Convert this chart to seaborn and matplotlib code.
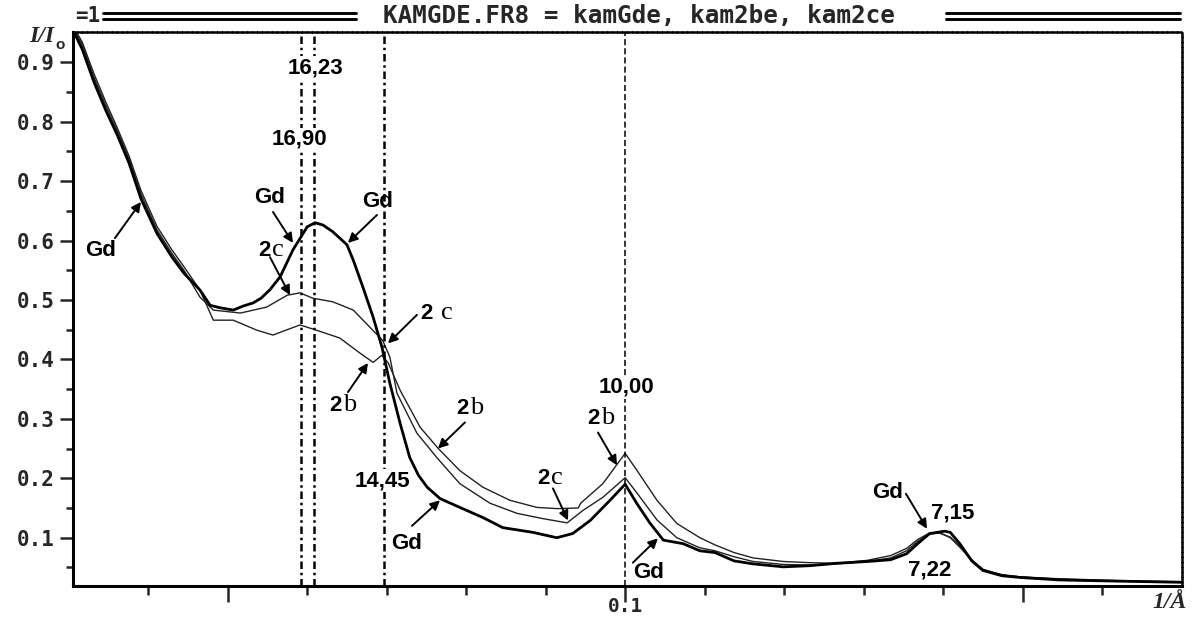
import numpy as np
import pandas as pd
import matplotlib
matplotlib.use("Agg")
import matplotlib.pyplot as plt
from matplotlib.lines import Line2D
import seaborn as sns

# scattering curves, q in 1/A, I/I0
gd_q = [0.0305, 0.0317, 0.0332, 0.0347, 0.0361, 0.0376, 0.0391, 0.0411, 0.0430, 0.0445,
        0.0465, 0.0478, 0.0490, 0.0507, 0.0520, 0.0532, 0.0542, 0.0553, 0.0566, 0.0582,
        0.0600, 0.0610, 0.0620, 0.0632, 0.0650, 0.0658, 0.0670, 0.0683, 0.0694, 0.0704,
        0.0717, 0.0729, 0.0740, 0.0751, 0.0767, 0.0792, 0.0821, 0.0846, 0.0884, 0.0914,
        0.0934, 0.0956, 0.0981, 0.1000, 0.1015, 0.1031, 0.1048, 0.1073, 0.1094, 0.1113,
        0.1137, 0.1161, 0.1199, 0.1233, 0.1266, 0.1305, 0.1334, 0.1354, 0.1368, 0.1383,
        0.1402, 0.1409, 0.1421, 0.1436, 0.1450, 0.1474, 0.1498, 0.1546, 0.1618, 0.1700]
gd_i = [0.955, 0.922, 0.866, 0.818, 0.778, 0.730, 0.670, 0.612, 0.572, 0.545,
        0.517, 0.491, 0.487, 0.483, 0.490, 0.495, 0.503, 0.517, 0.539, 0.584,
        0.623, 0.630, 0.626, 0.615, 0.593, 0.567, 0.522, 0.471, 0.421, 0.360,
        0.292, 0.235, 0.205, 0.185, 0.166, 0.151, 0.134, 0.117, 0.109, 0.100,
        0.107, 0.129, 0.163, 0.190, 0.157, 0.125, 0.096, 0.090, 0.078, 0.075,
        0.061, 0.056, 0.051, 0.053, 0.057, 0.060, 0.063, 0.073, 0.090, 0.107,
        0.111, 0.109, 0.090, 0.061, 0.045, 0.036, 0.033, 0.029, 0.027, 0.025]

b2_q = [0.0305, 0.0317, 0.0332, 0.0347, 0.0361, 0.0376, 0.0391, 0.0411, 0.0430, 0.0445,
        0.0465, 0.0482, 0.0507, 0.0537, 0.0557, 0.0575, 0.0591, 0.0612, 0.0641, 0.0666,
        0.0683, 0.0694, 0.0702, 0.0717, 0.0742, 0.0765, 0.0792, 0.0821, 0.0855, 0.0889,
        0.0914, 0.0941, 0.0944, 0.0972, 0.1000, 0.1015, 0.1040, 0.1065, 0.1094, 0.1113,
        0.1137, 0.1161, 0.1199, 0.1233, 0.1266, 0.1305, 0.1334, 0.1354, 0.1368, 0.1383,
        0.1395, 0.1409, 0.1421, 0.1436, 0.1450, 0.1474, 0.1498, 0.1546, 0.1618, 0.1700]
b2_i = [0.962, 0.934, 0.880, 0.832, 0.790, 0.742, 0.684, 0.624, 0.584, 0.556,
        0.517, 0.466, 0.466, 0.449, 0.441, 0.450, 0.458, 0.449, 0.436, 0.411,
        0.395, 0.407, 0.394, 0.348, 0.286, 0.250, 0.213, 0.185, 0.163, 0.151,
        0.149, 0.150, 0.158, 0.191, 0.242, 0.213, 0.163, 0.124, 0.100, 0.088,
        0.075, 0.066, 0.060, 0.058, 0.057, 0.062, 0.070, 0.082, 0.097, 0.108,
        0.109, 0.100, 0.084, 0.062, 0.046, 0.038, 0.034, 0.030, 0.027, 0.025]

c2_q = [0.0305, 0.0317, 0.0332, 0.0347, 0.0361, 0.0376, 0.0391, 0.0411, 0.0430, 0.0445,
        0.0465, 0.0482, 0.0516, 0.0549, 0.0575, 0.0591, 0.0607, 0.0632, 0.0658, 0.0679,
        0.0695, 0.0704, 0.0713, 0.0738, 0.0763, 0.0792, 0.0830, 0.0864, 0.0897, 0.0927,
        0.0947, 0.0972, 0.1000, 0.1015, 0.1040, 0.1065, 0.1094, 0.1113, 0.1137, 0.1161,
        0.1199, 0.1233, 0.1266, 0.1305, 0.1334, 0.1354, 0.1368, 0.1383, 0.1395, 0.1409,
        0.1421, 0.1436, 0.1450, 0.1474, 0.1498, 0.1546, 0.1618, 0.1700]
c2_i = [0.958, 0.930, 0.874, 0.826, 0.785, 0.737, 0.678, 0.618, 0.578, 0.550,
        0.505, 0.483, 0.478, 0.488, 0.508, 0.512, 0.503, 0.497, 0.483, 0.454,
        0.432, 0.404, 0.343, 0.276, 0.235, 0.191, 0.158, 0.141, 0.132, 0.125,
        0.146, 0.168, 0.201, 0.175, 0.130, 0.100, 0.083, 0.078, 0.068, 0.060,
        0.055, 0.054, 0.056, 0.060, 0.066, 0.078, 0.094, 0.106, 0.108, 0.101,
        0.086, 0.063, 0.047, 0.037, 0.034, 0.031, 0.028, 0.026]

# d-spacing markers (1/A)
vline_q = [0.0592, 0.0609, 0.0697, 0.1000]

ytick_vals = [0.1, 0.2, 0.3, 0.4, 0.5, 0.6, 0.7, 0.8, 0.9]
ytick_labels = ["0.1", "0.2", "0.3", "0.4", "0.5", "0.6", "0.7", "0.8", "0.9"]
ytick_minor = [0.05, 0.15, 0.25, 0.35, 0.45, 0.55, 0.65, 0.75, 0.85]
xtick_vals = [0.05, 0.10, 0.15]
xtick_labels = ["", "0.1", ""]
xtick_minor = [0.04, 0.06, 0.07, 0.08, 0.09, 0.11, 0.12, 0.13, 0.14, 0.16]

sns.set_style("white")
plt.rcParams['font.family'] = ['DejaVu Sans']

MONO = ['DejaVu Sans Mono']
NARROW = ['Liberation Sans Narrow', 'Liberation Sans']
SANS = ['Liberation Sans', 'DejaVu Sans']
SERIF = ['Liberation Serif', 'DejaVu Serif']

df = pd.concat([
    pd.DataFrame({"q": gd_q, "I": gd_i, "sample": "Gd"}),
    pd.DataFrame({"q": b2_q, "I": b2_i, "sample": "2b"}),
    pd.DataFrame({"q": c2_q, "I": c2_i, "sample": "2c"}),
], ignore_index=True)

fig = plt.figure(figsize=(11.95, 6.19), dpi=100)
ax = fig.add_axes([0.0608, 0.0541, 0.9280, 0.8934])

styles = {"2b": ("#222222", 1.0), "2c": ("#222222", 1.0), "Gd": ("black", 2.0)}
for name, (col, lw) in styles.items():
    sns.lineplot(data=df[df["sample"] == name], x="q", y="I", ax=ax,
                 color=col, linewidth=lw, estimator=None, sort=False)

for q in vline_q[:3]:
    ax.axvline(q, color="black", lw=1.8, ls=(0, (3, 1.5, 1, 1.5)))
ax.axvline(vline_q[3], color="black", lw=1.1, ls=(0, (4, 2)))

ax.set_xlim(0.0305, 0.170)
ax.set_ylim(0.0196, 0.950)
ax.set_xlabel("")
ax.set_ylabel("")
ax.set_yticks(ytick_vals, ytick_labels)
ax.set_yticks(ytick_minor, minor=True)
ax.set_xticks(xtick_vals, ["", "", ""])
ax.set_xticks(xtick_minor, minor=True)
ax.tick_params(axis='y', which='major', left=True, direction='out', length=9.5, width=1.8, pad=3.5)
ax.tick_params(axis='y', which='minor', left=True, direction='out', length=5, width=1.8)
ax.tick_params(axis='x', which='major', bottom=True, direction='out', length=11.5, width=1.8)
ax.tick_params(axis='x', which='minor', bottom=True, direction='out', length=6.5, width=1.8)
for lab in ax.get_yticklabels():
    lab.set_fontfamily(MONO)
    lab.set_fontweight('bold')
    lab.set_fontsize(15)

# x tick label drawn just under its tick, the bottom edge is tight
for q, lab in zip(xtick_vals, xtick_labels):
    if lab:
        ax.annotate(lab, (q, 0), xycoords=('data', 'figure fraction'),
                    xytext=(0, 9), textcoords='offset points', ha='center', va='center',
                    fontfamily=MONO, fontweight='bold', fontsize=14)

for s in ['left', 'bottom']:
    ax.spines[s].set_linewidth(2.2)
    ax.spines[s].set_color('black')
for s in ['top', 'right']:
    ax.spines[s].set_linewidth(1.8)
    ax.spines[s].set_color('black')
    ax.spines[s].set_linestyle((0, (1.2, 0.8)))

WHITE_BOX = dict(boxstyle='square,pad=0.05', fc='white', ec='none')


def note(x, y, s, size=16, box=False):
    ax.text(x, y, s, ha='center', va='center', fontfamily=NARROW,
            fontweight='bold', fontsize=size, color='black',
            bbox=WHITE_BOX if box else None, zorder=5)


def arrow(tail, tip):
    ax.annotate("", xy=tip, xytext=tail,
                arrowprops=dict(arrowstyle='-|>', color='black', lw=1.4,
                                mutation_scale=14, shrinkA=0, shrinkB=0))


def two_label(x, y, letter, gap=0.5):
    ax.annotate("2", (x, y), xytext=(-gap, 0), textcoords='offset points', color='black',
                ha='right', va='baseline', fontfamily=SANS, fontweight='bold', fontsize=16)
    ax.annotate(letter, (x, y), xytext=(gap, 0), textcoords='offset points', color='black',
                ha='left', va='baseline', fontfamily=SERIF, fontsize=19)


# d-spacing numbers (they break the marker lines)
note(0.06098, 0.891, "16,23", 16, box=True)
note(0.05909, 0.770, "16,90", 16, box=True)
note(0.06953, 0.196, "14,45", 16, box=True)
note(0.10010, 0.353, "10,00", 16, box=True)
note(0.14124, 0.142, "7,15", 16)
note(0.13834, 0.045, "7,22", 16)

# Gd labels with arrows
note(0.03406, 0.584, "Gd")
arrow((0.03582, 0.604), (0.03909, 0.665))
note(0.05532, 0.672, "Gd")
arrow((0.05570, 0.648), (0.05821, 0.596))
note(0.06891, 0.665, "Gd")
arrow((0.06878, 0.643), (0.06513, 0.596))
note(0.07255, 0.090, "Gd")
arrow((0.07318, 0.120), (0.07671, 0.163))
note(0.10299, 0.041, "Gd")
arrow((0.10097, 0.058), (0.10412, 0.099))
note(0.13306, 0.176, "Gd")
arrow((0.13532, 0.174), (0.13797, 0.115))

# sample labels 2b / 2c
two_label(0.05545, 0.574, "c")
arrow((0.05532, 0.572), (0.05784, 0.508))
two_label(0.07633, 0.468, "c", gap=3)
arrow((0.07381, 0.475), (0.07017, 0.427))
two_label(0.06438, 0.313, "b")
arrow((0.06513, 0.345), (0.06765, 0.394))
two_label(0.08035, 0.308, "b")
arrow((0.07985, 0.294), (0.07645, 0.250))
two_label(0.09682, 0.291, "b")
arrow((0.09658, 0.277), (0.09897, 0.222))
two_label(0.09054, 0.191, "c")
arrow((0.09092, 0.183), (0.09281, 0.129))

# header line of the old program
fig.text(75 / 1195, 1 - 16 / 619, "=1", ha='left', va='center', fontfamily=MONO,
         fontweight='bold', fontsize=15)
fig.text(639 / 1195, 1 - 16 / 619, "KAMGDE.FR8 = kamGde, kam2be, kam2ce", ha='center',
         va='center', fontfamily=MONO, fontweight='bold', fontsize=17.5)
for y_px in (13.0, 18.5):
    for x0, x1 in ((103, 356), (946, 1180)):
        fig.add_artist(Line2D([x0 / 1195, x1 / 1195], [1 - y_px / 619] * 2,
                              color='black', lw=2.1, transform=fig.transFigure))

# axis names
fig.text(54 / 1195, 1 - 37 / 619, "I/I", ha='right', va='center', fontfamily=SERIF,
         fontweight='bold', fontstyle='italic', fontsize=17)
fig.text(55 / 1195, 1 - 45 / 619, "o", ha='left', va='center', fontfamily=SANS,
         fontweight='bold', fontsize=11)
fig.text(1170 / 1195, 1 - 602 / 619, "1/Å", ha='center', va='center', fontfamily=SERIF,
         fontweight='bold', fontstyle='italic', fontsize=17)

fig.savefig("out.png", dpi=100)
